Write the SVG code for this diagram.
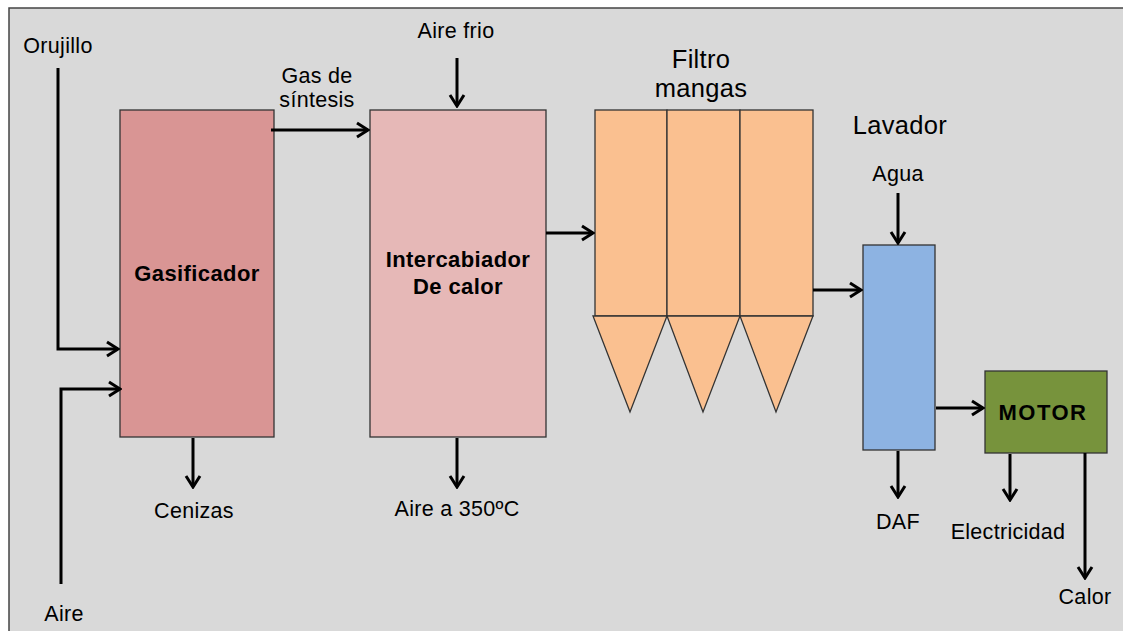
<svg xmlns="http://www.w3.org/2000/svg" width="1123" height="631" viewBox="0 0 1123 631">
<defs>
<marker id="ah" markerUnits="userSpaceOnUse" markerWidth="16" markerHeight="18" viewBox="-14 -9 16 18" refX="0" refY="0" orient="auto">
<path d="M-11,-7 L0,0 L-11,7" fill="none" stroke="#000" stroke-width="3"/>
</marker>
</defs>
<style>
.t{font-family:"Liberation Sans",Arial,sans-serif;font-size:21.5px;fill:#000;text-anchor:middle;letter-spacing:0.3px}
.b{font-weight:bold;font-size:22px;letter-spacing:0.4px}
.big{font-size:25.5px}
.box{stroke:#333;stroke-width:1.3}
.c{fill:none;stroke:#000;stroke-width:3;marker-end:url(#ah)}
</style>
<rect x="0" y="0" width="1123" height="631" fill="#fff"/>
<rect x="9" y="8" width="1120" height="630" fill="#d9d9d9" stroke="#444" stroke-width="1.5"/>
<g id="gasificador">
<rect class="box" x="120" y="110" width="154" height="327" fill="#d99594"/>
<text class="t b" x="197" y="281">Gasificador</text>
</g>
<g id="intercambiador">
<rect class="box" x="370" y="110" width="176" height="327" fill="#e6b8b7"/>
<text class="t b" x="458" y="267">Intercabiador</text>
<text class="t b" x="458" y="294">De calor</text>
</g>
<g id="filtro">
<rect class="box" x="595" y="110" width="72" height="206" fill="#fac090"/>
<rect class="box" x="667" y="110" width="73" height="206" fill="#fac090"/>
<rect class="box" x="740" y="110" width="73" height="206" fill="#fac090"/>
<polygon class="box" points="593,316 667,316 630,412" fill="#fac090"/>
<polygon class="box" points="667,316 740,316 703,412" fill="#fac090"/>
<polygon class="box" points="740,316 813,316 776,412" fill="#fac090"/>
<text class="t big" x="701" y="68">Filtro</text>
<text class="t big" x="701" y="97">mangas</text>
</g>
<g id="lavador">
<rect class="box" x="863" y="245" width="72" height="205" fill="#8db3e2"/>
<text class="t big" x="900" y="134">Lavador</text>
</g>
<g id="motor">
<rect class="box" x="985" y="371" width="122" height="82" fill="#77933c"/>
<text class="t b" x="1043" y="420" style="letter-spacing:1.5px">MOTOR</text>
</g>
<g id="labels">
<text class="t" x="58" y="53">Orujillo</text>
<text class="t" x="64" y="621">Aire</text>
<text class="t" x="317" y="83">Gas de</text>
<text class="t" x="317" y="107">síntesis</text>
<text class="t" x="456" y="38">Aire frio</text>
<text class="t" x="194" y="518">Cenizas</text>
<text class="t" x="457" y="516">Aire a 350ºC</text>
<text class="t" x="898" y="181">Agua</text>
<text class="t" x="898" y="529">DAF</text>
<text class="t" x="1008" y="539">Electricidad</text>
<text class="t" x="1085" y="604">Calor</text>
</g>
<g id="connectors">
<path class="c" d="M58,68 V349 H118"/>
<path class="c" d="M61,584 V389 H120"/>
<path class="c" d="M271,130 H368"/>
<path class="c" d="M457,58 V106"/>
<path class="c" d="M193,438 V487"/>
<path class="c" d="M457,438 V487"/>
<path class="c" d="M546,233 H593"/>
<path class="c" d="M813,290 H861"/>
<path class="c" d="M898,193 V243"/>
<path class="c" d="M898,451 V497"/>
<path class="c" d="M936,408 H983"/>
<path class="c" d="M1010,454 V500"/>
<path class="c" d="M1085,453 V578"/>
</g>
</svg>
